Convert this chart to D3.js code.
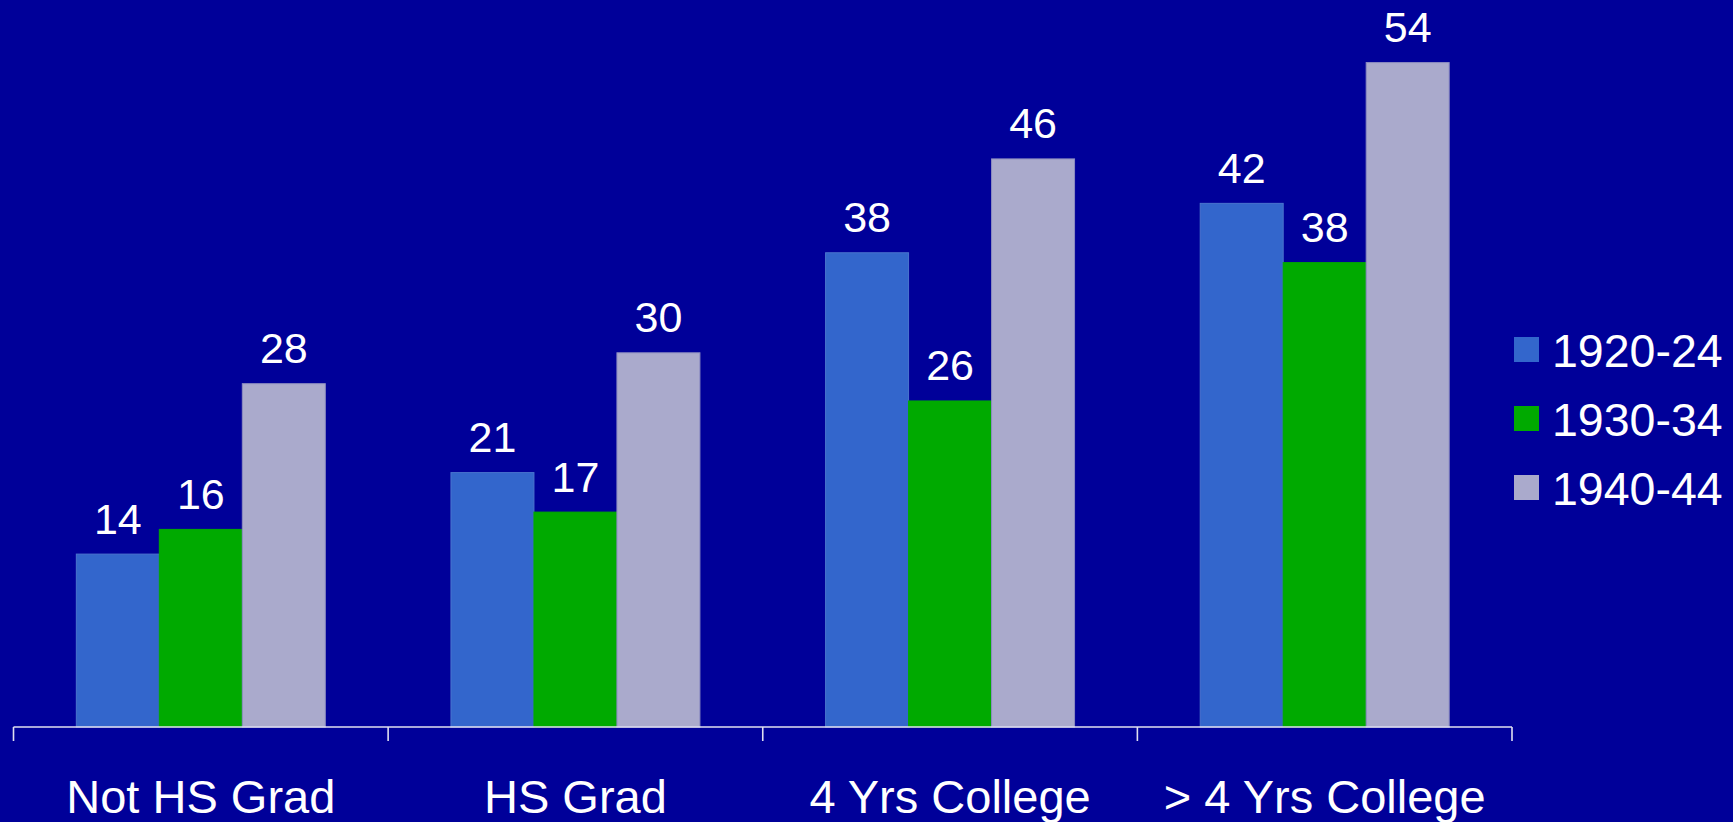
<!DOCTYPE html>
<html>
<head>
<meta charset="utf-8">
<script src="https://cdn.jsdelivr.net/npm/d3@7"></script>
<style>
  html, body { margin: 0; padding: 0; background: #000099; overflow: hidden; }
  svg { display: block; }
  text { font-family: "Liberation Sans", Arial, sans-serif; fill: #ffffff; }
</style>
</head>
<body>
<svg id="chart" width="1733" height="822"></svg>
<script>
const categories = ["Not HS Grad", "HS Grad", "4 Yrs College", "> 4 Yrs College"];
const seriesNames = ["1920-24", "1930-34", "1940-44"];
const values1920 = [14.0, 20.6, 38.4, 42.4];
const values1930 = [16.0, 17.4, 26.4, 37.6];
const values1940 = [27.8, 30.3, 46.0, 53.8];
const yDomain = [0, 60];
const seriesColors = ["#3366CC", "#00AA00", "#AAAACC"];
const seriesStrokes = ["#4A74CE", "#00AA00", "#8C8CC0"];

const seriesValues = [values1920, values1930, values1940];
const rows = categories.map((c, i) => ({
  category: c,
  values: seriesNames.map((s, j) => ({ series: s, idx: j, value: seriesValues[j][i] }))
}));

const svg = d3.select("#chart");
const baseY = 727;

const x0 = d3.scaleBand().domain(categories).range([13.5, 1512]).paddingInner(0).paddingOuter(0);
const x1 = d3.scaleBand().domain(seriesNames).range([0, x0.bandwidth()]).paddingInner(0).paddingOuter(0.757);
const y = d3.scaleLinear().domain(yDomain).range([baseY, baseY - 741]);
const fmt = d3.format(".0f");

const groups = svg.append("g").selectAll("g")
  .data(rows).join("g")
  .attr("transform", d => `translate(${x0(d.category)},0)`);

groups.selectAll("rect")
  .data(d => d.values).join("rect")
  .attr("x", d => x1(d.series))
  .attr("y", d => y(d.value))
  .attr("width", x1.bandwidth())
  .attr("height", d => baseY - y(d.value))
  .attr("fill", d => seriesColors[d.idx])
  .attr("stroke", d => seriesStrokes[d.idx])
  .attr("stroke-width", 1);

groups.selectAll("text.val")
  .data(d => d.values).join("text")
  .attr("class", "val")
  .attr("x", d => x1(d.series) + x1.bandwidth() / 2)
  .attr("y", d => y(d.value) - 20.5)
  .attr("text-anchor", "middle")
  .style("font-size", "43px")
  .text(d => fmt(d.value));

// Axis with ticks at category boundaries
const axis = d3.axisBottom(x0).tickSize(0).tickFormat("");
const axisG = svg.append("g").attr("transform", `translate(0,${baseY})`).call(axis);
axisG.select(".domain").remove();
axisG.append("line")
  .attr("x1", x0.range()[0]).attr("x2", x0.range()[1])
  .attr("y1", 0).attr("y2", 0)
  .attr("stroke", "#E0E0F0").attr("stroke-width", 1.6);
const boundaries = categories.map(c => x0(c)).concat([x0.range()[1]]);
axisG.selectAll("line.bnd").data(boundaries).join("line")
  .attr("class", "bnd")
  .attr("x1", d => d).attr("x2", d => d)
  .attr("y1", 0).attr("y2", 14)
  .attr("stroke", "#E0E0F0").attr("stroke-width", 1.6);
axisG.selectAll("text.cat").data(categories).join("text")
  .attr("class", "cat")
  .attr("x", d => x0(d) + x0.bandwidth() / 2)
  .attr("y", 86)
  .attr("text-anchor", "middle")
  .style("font-size", "47px")
  .text(d => d);

// Legend
const legend = svg.append("g").attr("transform", "translate(1514,337)");
const items = legend.selectAll("g").data(seriesNames).join("g")
  .attr("transform", (d, i) => `translate(0,${i * 69})`);
items.append("rect")
  .attr("width", 25).attr("height", 25)
  .attr("fill", (d, i) => seriesColors[i]);
items.append("text")
  .attr("x", 38).attr("y", 30)
  .style("font-size", "46.5px")
  .text(d => d);
</script>
</body>
</html>
